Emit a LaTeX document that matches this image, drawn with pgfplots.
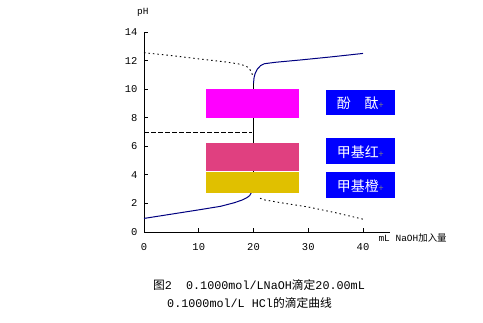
\documentclass[border=0pt]{standalone}
\usepackage{pgfplots}
\pgfplotsset{compat=1.18}
\usepackage{fontspec}
\setmainfont{Liberation Mono}
\newfontfamily\cjk{Noto Sans CJK SC}
\newfontfamily\mono{Liberation Mono}
\definecolor{navyline}{RGB}{0,0,128}
\definecolor{mag}{RGB}{255,0,255}
\definecolor{pinkbox}{RGB}{224,64,128}
\definecolor{yellowbox}{RGB}{224,192,0}
\definecolor{bluebox}{RGB}{0,0,255}
\begin{document}
\begin{tikzpicture}[x=1bp,y=1bp]
\path[use as bounding box] (-144,-90) rectangle (339,232);
\begin{axis}[at={(0,0)}, anchor=south west, scale only axis,
  width=246.375bp, height=200bp,
  xmin=0, xmax=45, ymin=0, ymax=14,
  axis x line=bottom, axis y line=left, axis line style={-, line width=0.8bp},
  xtick={0,10,20,30,40}, ytick={0,2,4,6,8,10,12,14},
  tick align=inside, major tick length=4bp, tick style={black, line width=0.8bp},
  /pgf/number format/assume math mode=true,
  tick label style={font=\fontsize{10.5}{11}\selectfont},
  xticklabel style={yshift=-8bp},
  yticklabel style={xshift=-3bp},
  clip=false]
% dotted curves
\addplot[black, line width=0.9bp, dash pattern=on 1.5bp off 3bp] coordinates {(0,12.55) (5,12.35) (10,12.12) (15,11.9) (17.5,11.75) (18.7,11.6) (19.3,11.4) (19.6,11.2) (19.85,10.95)};
\addplot[black, line width=0.9bp, dash pattern=on 1.5bp off 3bp] coordinates {(21.2,2.36) (22,2.25) (25,2.05) (30,1.75) (35,1.35) (40,0.9)};
% dashed horizontal at pH 7
\addplot[black, line width=0.9bp, dash pattern=on 5bp off 2bp] coordinates {(0,7) (19.7,7)};
% vertical jump
\addplot[black, line width=1bp] coordinates {(20,2.7) (20,10.5)};
% solid titration curve
\addplot[navyline, line width=1bp] coordinates {(0,0.95) (5,1.25) (10,1.55) (14,1.8) (16.5,2.05) (18,2.25) (18.8,2.4) (19.3,2.55) (19.6,2.75) (19.8,2.9)};
\addplot[navyline, line width=1bp] coordinates {(20,10.4) (20.1,10.8) (20.3,11.1) (20.7,11.4) (21.3,11.65) (22,11.78) (24,11.88) (28.5,12.04) (34,12.25) (40,12.5)};
% indicator boxes
\fill[mag] (axis cs:11.3,7.97) rectangle (axis cs:28.3,10.02);
\fill[pinkbox] (axis cs:11.3,4.3) rectangle (axis cs:28.3,6.26);
\fill[yellowbox] (axis cs:11.3,2.75) rectangle (axis cs:28.3,4.22);
% blue label boxes
\fill[bluebox] (axis cs:33.2,8.2) rectangle (axis cs:45.8,9.95);
\fill[bluebox] (axis cs:33.2,4.76) rectangle (axis cs:45.8,6.58);
\fill[bluebox] (axis cs:33.2,2.38) rectangle (axis cs:45.8,4.2);
\node[text=white, font=\cjk\fontsize{14}{15}\selectfont] at (axis cs:39.5,9.05) {酚\hspace{1em}酞{\color{gray}\fontsize{9}{9}\selectfont +}};
\node[text=white, font=\cjk\fontsize{14}{15}\selectfont] at (axis cs:39.5,5.6) {甲基红{\color{gray}\fontsize{9}{9}\selectfont +}};
\node[text=white, font=\cjk\fontsize{14}{15}\selectfont] at (axis cs:39.5,3.22) {甲基橙{\color{gray}\fontsize{9}{9}\selectfont +}};
% axis labels
\node[font=\mono\fontsize{9.5}{10}\selectfont] at (axis cs:-0.2,15.4) {pH};
\node[anchor=west, inner sep=0pt, font=\fontsize{9.5}{10}\selectfont] at (axis cs:42.8,-0.42) {mL NaOH{\cjk 加入量}};
\end{axis}
\node[anchor=west, inner sep=0pt, font=\fontsize{11.8}{12}\selectfont] at (9,-53) {{\cjk 图}2\hspace{1.2em}0.1000mol/LNaOH{\cjk 滴定}20.00mL};
\node[anchor=west, inner sep=0pt, font=\fontsize{11.8}{12}\selectfont] at (23,-71) {0.1000mol/L HCl{\cjk 的滴定曲线}};
\end{tikzpicture}
\end{document}
